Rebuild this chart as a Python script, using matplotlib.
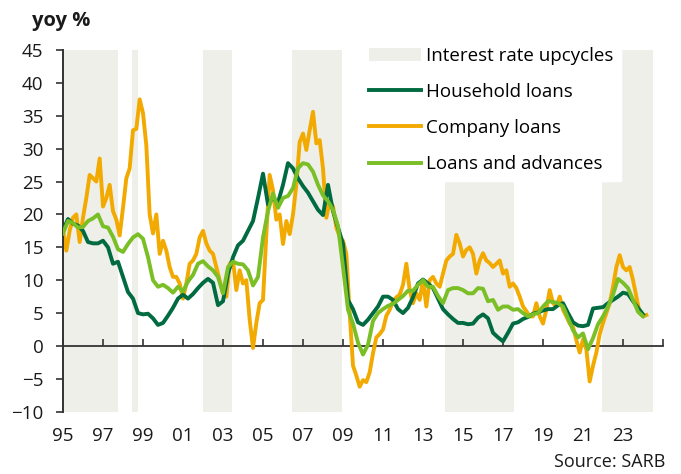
import numpy as np
import matplotlib
matplotlib.use("Agg")
from matplotlib import pyplot as plt
from matplotlib.patches import Patch
from matplotlib.lines import Line2D

plt.rcParams['font.family'] = ['Open Sans', 'DejaVu Sans']

# quarterly series, 1995Q1 .. 2024Q1 (yoy %)
household = [
    17.6, 19.3, 18.6, 18.3,  17.5, 15.8, 15.6, 15.6,  16.0, 15.0, 12.5, 12.8,
    10.5, 8.2, 7.2, 5.0,  4.8, 4.9, 4.2, 3.2,  3.5, 4.6, 5.8, 7.2,
    7.8, 7.2, 7.9, 8.8,  9.6, 10.2, 9.6, 6.2,  6.8, 11.0, 13.5, 15.3,
    16.0, 17.5, 19.0, 22.5,  26.2, 21.5, 22.5, 21.8,  24.5, 27.8, 27.0, 25.5,
    24.3, 23.3, 22.0, 20.7,  19.9, 24.5, 20.5, 18.0,  15.5, 7.0, 5.6, 3.6,
    3.2, 4.0, 5.0, 6.0,  7.5, 7.5, 7.0, 5.6,  5.0, 5.8, 7.4, 9.5,
    10.1, 9.5, 8.8, 7.2,  5.6, 4.8, 4.1, 3.5,  3.5, 3.3, 3.4, 4.3,
    4.8, 4.2, 2.0, 1.3,  0.7, 2.0, 3.4, 3.6,  4.1, 4.4, 4.9, 5.1,
    5.4, 5.6, 5.6, 6.2,  6.5, 5.0, 3.6, 3.1,  3.0, 3.2, 5.7, 5.8,
    5.9, 6.5, 7.0, 7.5,  8.1, 7.9, 6.8, 5.8,  4.8,
]

loans_adv = [
    17.1, 19.0, 18.7, 18.0,  18.1, 19.0, 19.4, 20.0,  18.2, 18.0, 16.6, 14.7,
    14.3, 15.5, 16.5, 17.0,  16.3, 13.5, 10.0, 9.0,  9.3, 8.8, 8.1, 9.0,
    8.3, 9.8, 10.8, 12.5,  12.9, 12.1, 11.5, 10.5,  8.0, 12.0, 12.8, 12.5,
    12.4, 11.5, 9.2, 10.5,  16.5, 20.5, 23.2, 21.0,  22.5, 22.8, 24.0, 27.0,
    27.8, 27.6, 26.5, 24.5,  22.9, 22.0, 20.7, 18.2,  12.0, 5.5, 3.4, 0.5,
    -1.3, 0.2, 3.8, 5.0,  5.6, 6.1, 6.4, 7.0,  7.6, 8.4, 8.4, 9.3,
    10.0, 9.0, 9.0, 7.6,  6.5, 8.5, 8.8, 8.8,  8.5, 8.0, 8.0, 8.8,
    8.7, 6.8, 7.0, 5.5,  6.0, 6.0, 5.5, 5.6,  5.0, 4.5, 4.8, 5.0,
    6.0, 6.8, 6.7, 6.5,  6.0, 4.2, 2.4, 1.3,  1.9, -0.5, 1.2, 3.3,
    4.5, 6.0, 7.8, 10.2,  9.6, 8.8, 7.0, 5.2,  4.5,
]

# bi-monthly series, Jan 1995 .. Mar 2024
company = [
    17.5, 14.5, 17.5, 19.5, 20.0, 15.8,   19.5, 22.5, 26.0, 25.5, 25.0, 28.5,
    21.2, 22.5, 24.5, 20.5, 19.2, 16.8,   21.0, 25.5, 27.0, 32.8, 33.0, 37.5,
    35.4, 30.5, 20.0, 17.1, 20.0, 14.0,   16.0, 14.5, 12.0, 10.5, 10.5, 9.5,
    7.2, 9.5, 12.5, 13.0, 14.0, 16.5,     17.5, 15.6, 14.5, 14.0, 12.0, 10.0,
    8.0, 7.5, 12.5, 13.0, 8.5, 11.5,      9.5, 10.0, 4.0, -0.3, 3.5, 6.5,
    7.0, 17.0, 26.0, 23.7, 19.2, 20.0,    15.5, 19.0, 17.0, 20.0, 24.5, 31.0,
    32.3, 29.8, 32.8, 35.6, 30.8, 31.3,   27.0, 19.5, 22.0, 21.2, 18.0, 16.6,
    16.0, 14.0, 5.0, -3.0, -4.5, -6.2,    -5.2, -5.5, -4.0, -1.1, 1.3, 1.8,
    2.5, 4.6, 5.5, 6.8, 7.4, 7.8,         9.3, 12.5, 8.5, 6.5, 8.0, 7.0,
    10.0, 6.0, 10.0, 10.5, 9.5, 9.0,      11.0, 13.0, 13.6, 14.0, 16.9, 15.6,
    13.6, 14.6, 15.0, 14.0, 11.0, 13.0,   14.1, 13.0, 12.6, 12.0, 12.5, 13.0,
    11.0, 11.5, 9.0, 9.5, 8.8, 7.5,       6.0, 5.3, 4.5, 4.5, 6.5, 4.5,
    3.4, 5.5, 8.5, 6.5, 6.0, 7.5,         5.5, 4.5, 3.4, 2.9, 0.9, -1.0,
    1.0, -0.5, -5.4, -3.0, -1.0, 1.8,     3.5, 5.0, 6.5, 9.0, 12.0, 13.8,
    12.0, 11.5, 12.0, 10.0, 7.5, 5.0,     4.5, 4.7,
]

# interest rate upcycles (start, end), decimal years
upcycles = [(1995.0, 1997.73), (1998.43, 1998.77), (2002.02, 2003.43),
            (2006.45, 2008.95), (2014.1, 2017.57), (2021.93, 2024.52)]

xticks = list(range(1995, 2026, 2))
xticklabels = ['95', '97', '99', '01', '03', '05', '07', '09', '11', '13',
               '15', '17', '19', '21', '23', '']
yticks = list(range(-10, 50, 5))

c_hh = '#006A41'
c_co = '#F2A900'
c_la = '#7BBF27'
c_shade = '#EFEFEA'
c_axis = '#333333'

q_years = 1995 + np.arange(len(household)) / 4.0
b_years = 1995 + np.arange(len(company)) / 6.0

fig = plt.figure(figsize=(6.81, 4.74), dpi=100)
ax = fig.add_axes([0.0925, 0.1314, 0.8811, 0.7631])

for a, b in upcycles:
    ax.axvspan(a, b, color=c_shade, lw=0, zorder=0)

lco, = ax.plot(b_years, company, color=c_co, lw=2.8, zorder=2)
lhh, = ax.plot(q_years, household, color=c_hh, lw=2.8, zorder=3)
lla, = ax.plot(q_years, loans_adv, color=c_la, lw=2.8, zorder=4)

ax.set_xlim(1995, 2025)
ax.set_ylim(-10, 45)

for s in ['top', 'right', 'bottom']:
    ax.spines[s].set_visible(False)
ax.spines['left'].set_color(c_axis)
ax.spines['left'].set_linewidth(1.4)

ax.set_yticks(yticks)
ax.tick_params(axis='y', length=5, width=1.2, color=c_axis, pad=9,
               labelsize=13.5, labelcolor='#1a1a1a')
ax.set_xticks(xticks)
ax.set_xticklabels(xticklabels)
ax.tick_params(axis='x', length=0, pad=11, labelsize=13.5, labelcolor='#1a1a1a')

# zero line with tick marks pointing up
zero = ax.secondary_xaxis(10 / 55.0)
zero.set_xticks(xticks)
zero.tick_params(axis='x', direction='in', length=5, width=1.2, color=c_axis,
                 labelbottom=False)
zero.spines['bottom'].set_color(c_axis)
zero.spines['bottom'].set_linewidth(1.3)

handles = [Patch(facecolor=c_shade, edgecolor='none'),
           Line2D([], [], color=c_hh, lw=2.8),
           Line2D([], [], color=c_co, lw=2.8),
           Line2D([], [], color=c_la, lw=2.8)]
labels = ['Interest rate upcycles', 'Household loans', 'Company loans',
          'Loans and advances']
leg = ax.legend(handles, labels, loc='upper left', bbox_to_anchor=(0.497, 1.03),
                borderaxespad=0, frameon=True, fancybox=False, framealpha=1,
                edgecolor='white', facecolor='white', fontsize=13.5,
                handlelength=2.77, handletextpad=0.27, labelspacing=0.97,
                borderpad=0.4)
leg.set_zorder(10)

fig.text(32 / 681, 1 - 21 / 474, 'yoy %', fontsize=14.5, fontweight='bold',
         ha='left', va='center', color='#1a1a1a')
fig.text(665 / 681, 1 - 462 / 474, 'Source: SARB', fontsize=13,
         ha='right', va='center', color='#1a1a1a')

fig.savefig('out.png', dpi=100)
